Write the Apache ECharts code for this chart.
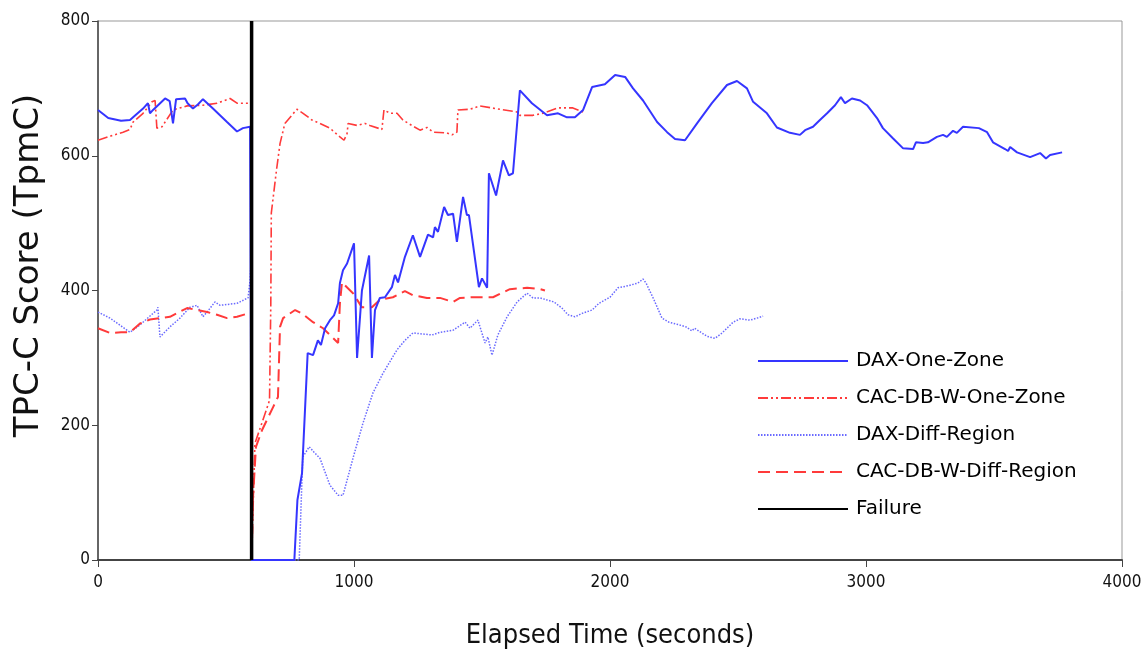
<!DOCTYPE html>
<html>
<head>
<meta charset="utf-8">
<script src="https://cdn.jsdelivr.net/npm/echarts@6/dist/echarts.min.js"></script>
<style>
  html, body { margin: 0; padding: 0; background: #fff; }
  #chart { width: 1146px; height: 661px; }
</style>
</head>
<body>
<div id="chart"></div>
<script>
// [elapsed seconds, TpmC]
const daxOneZone = [
  [0,668],[40,656],[90,652],[125,653],[137,657],[176,670],[195,678],[203,663],[215,668],[262,685],
  [280,681],[293,648],[305,684],[340,685],[350,678],[371,670],[390,676],[410,684],[449,670],[504,650],
  [543,636],[566,641],[594,643],[598,645],[600,0],[767,0],[779,89],[797,129],[819,307],[840,304],
  [859,326],[871,319],[887,344],[906,356],[922,363],[938,381],[945,411],[957,430],[973,440],[1000,470],
  [1012,300],[1031,400],[1059,452],[1070,300],[1082,371],[1101,389],[1121,390],[1148,405],[1160,423],
  [1172,412],[1199,450],[1230,482],[1258,450],[1289,483],[1309,479],[1316,494],[1328,487],[1352,524],
  [1367,512],[1387,514],[1402,472],[1426,539],[1441,512],[1449,512],[1488,405],[1500,418],[1520,404],
  [1527,574],[1555,541],[1582,593],[1605,571],[1621,574],[1648,697],[1695,678],[1754,660],[1797,663],
  [1832,657],[1863,657],[1895,668],[1930,702],[1980,706],[2020,720],[2059,717],[2090,700],[2129,682],
  [2184,650],[2223,635],[2254,625],[2293,623],[2340,648],[2398,678],[2457,705],[2496,711],[2535,700],
  [2559,680],[2613,663],[2652,642],[2703,634],[2742,631],[2762,638],[2793,643],[2820,653],[2848,663],
  [2879,675],[2902,687],[2918,678],[2945,685],[2977,682],[3004,675],[3043,656],[3066,641],[3105,626],
  [3145,611],[3184,610],[3195,620],[3223,619],[3242,620],[3277,628],[3301,631],[3316,628],[3340,637],
  [3355,634],[3379,643],[3441,641],[3473,635],[3496,620],[3543,610],[3555,607],[3563,613],[3590,605],
  [3641,598],[3680,604],[3703,596],[3719,601],[3766,605]
];

const cacOneZone = [
  [0,623],[47,629],[98,635],[125,639],[137,650],[176,663],[211,680],[223,682],[230,641],[250,643],
  [293,668],[348,674],[410,675],[465,678],[516,685],[543,678],[598,678],[600,0],[613,173],[657,222],
  [670,237],[675,380],[677,515],[697,578],[711,618],[730,648],[777,669],[801,663],[836,653],[867,648],
  [906,641],[945,628],[961,623],[973,633],[977,648],[1012,645],[1043,648],[1062,645],[1109,639],
  [1117,668],[1141,663],[1168,663],[1191,653],[1230,644],[1258,638],[1285,642],[1309,635],[1363,634],
  [1383,631],[1402,635],[1406,668],[1453,669],[1492,674],[1570,669],[1637,665],[1648,660],[1699,660],
  [1738,663],[1797,671],[1855,671],[1895,665]
];

const daxDiffRegion = [
  [0,368],[47,359],[125,338],[164,349],[230,371],[234,375],[242,331],[281,346],[320,359],[359,375],
  [387,378],[410,361],[426,368],[457,383],[477,378],[543,381],[586,389],[594,415],[598,445],[600,0],
  [786,0],[795,100],[800,153],[825,168],[844,160],[867,151],[906,111],[938,96],[957,96],[996,151],
  [1035,203],[1074,248],[1113,277],[1168,312],[1199,326],[1230,337],[1305,334],[1336,338],[1387,341],
  [1434,353],[1453,344],[1484,356],[1512,322],[1523,331],[1539,304],[1562,334],[1598,361],[1637,383],
  [1676,396],[1699,389],[1727,389],[1781,383],[1812,374],[1836,364],[1863,361],[1891,366],[1930,371],
  [1957,381],[2000,390],[2031,404],[2070,407],[2109,411],[2129,417],[2141,411],[2172,386],[2203,359],
  [2230,353],[2270,349],[2297,346],[2320,340],[2330,344],[2379,332],[2410,329],[2438,337],[2481,353],
  [2508,358],[2547,356],[2574,359],[2598,362]
];

const cacDiffRegion = [
  [0,344],[47,337],[90,338],[125,338],[164,351],[203,357],[242,359],[281,361],[348,374],[387,371],
  [426,368],[465,364],[504,359],[543,361],[586,366],[598,368],[600,0],[605,89],[617,168],[641,193],
  [684,227],[703,242],[711,346],[723,359],[770,371],[800,365],[840,353],[879,344],[938,322],[945,381],
  [953,412],[996,396],[1031,375],[1070,375],[1101,386],[1152,390],[1199,399],[1230,393],[1285,389],
  [1336,389],[1387,383],[1414,389],[1465,390],[1543,390],[1609,402],[1676,404],[1727,402],[1746,400]
];

const failure = [[600,0],[600,800]];

const seriesNames = ["DAX-One-Zone", "CAC-DB-W-One-Zone", "DAX-Diff-Region", "CAC-DB-W-Diff-Region", "Failure"];

const chart = echarts.init(document.getElementById("chart"));

const tickFont = "'Liberation Sans Narrow', 'DejaVu Sans Condensed', 'Liberation Sans', sans-serif";

chart.setOption({
  animation: false,
  backgroundColor: "#fff",
  grid: {
    left: 98,
    right: 24,
    top: 21,
    bottom: 101,
    show: true,
    borderColor: "#999",
    borderWidth: 1,
  },
  legend: {
    data: seriesNames,
    orient: "vertical",
    left: 752,
    top: 346,
    itemWidth: 90,
    itemHeight: 14,
    itemGap: 17,
    itemStyle: { opacity: 0 },
    textStyle: {
      fontFamily: "'DejaVu Sans', sans-serif",
      fontSize: 20,
      color: "#000",
      padding: [0, 0, 0, 3],
    },
  },
  xAxis: {
    type: "value",
    min: 0,
    max: 4000,
    interval: 1000,
    name: "Elapsed Time (seconds)",
    nameLocation: "middle",
    nameGap: 62,
    nameTextStyle: {
      fontFamily: "'DejaVu Sans Condensed', 'Liberation Sans Narrow', 'DejaVu Sans', sans-serif",
      fontSize: 27,
      color: "#111",
    },
    splitLine: { show: false },
    axisLine: { lineStyle: { color: "#444", width: 2 } },
    axisTick: { inside: false, length: 7, lineStyle: { color: "#444" } },
    axisLabel: { fontFamily: tickFont, fontSize: 17, color: "#111", margin: 14, formatter: (v) => String(v) },
  },
  yAxis: {
    type: "value",
    min: 0,
    max: 800,
    interval: 200,
    name: "TPC-C Score (TpmC)",
    nameLocation: "middle",
    nameGap: 52,
    nameTextStyle: {
      fontFamily: "'DejaVu Sans', sans-serif",
      fontSize: 34,
      color: "#111",
      padding: [0, 0, 0, 50],
    },
    splitLine: { show: false },
    axisLine: { show: true, lineStyle: { color: "#444", width: 1.5 } },
    axisTick: { show: true, inside: false, length: 6, lineStyle: { color: "#444" } },
    axisLabel: { fontFamily: tickFont, fontSize: 17, color: "#111", margin: 8, formatter: (v) => String(v) },
  },
  series: [
    {
      name: seriesNames[0],
      type: "line",
      symbol: "none",
      data: daxOneZone,
      z: 4,
      lineStyle: { color: "#3535ff", width: 2, type: "solid" },
      itemStyle: { color: "#3535ff" },
    },
    {
      name: seriesNames[1],
      type: "line",
      symbol: "none",
      data: cacOneZone,
      z: 3,
      lineStyle: { color: "#ff3a3a", width: 1.6, type: [10, 3, 2, 3, 2, 3] },
      itemStyle: { color: "#ff3a3a" },
    },
    {
      name: seriesNames[2],
      type: "line",
      symbol: "none",
      data: daxDiffRegion,
      z: 2,
      lineStyle: { color: "#6a6aff", width: 1.5, type: [1.5, 1.5] },
      itemStyle: { color: "#6a6aff" },
    },
    {
      name: seriesNames[3],
      type: "line",
      symbol: "none",
      data: cacDiffRegion,
      z: 3,
      lineStyle: { color: "#ff3a3a", width: 2, type: [12, 6] },
      itemStyle: { color: "#ff3a3a" },
    },
    {
      name: seriesNames[4],
      type: "line",
      symbol: "none",
      data: failure,
      z: 6,
      lineStyle: { color: "#000", width: 3.5, type: "solid" },
      itemStyle: { color: "#000" },
    },
  ],
});
</script>
</body>
</html>
